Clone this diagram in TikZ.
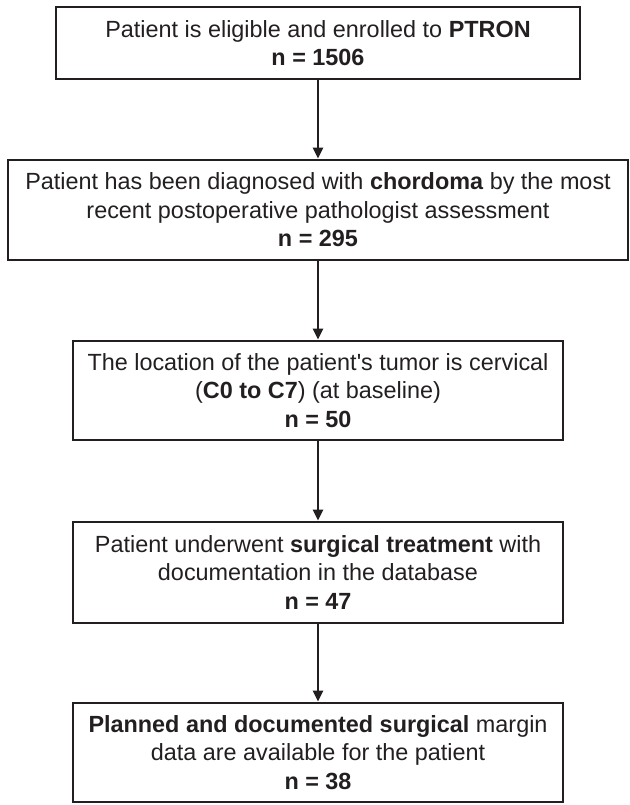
\documentclass[tikz,border=0pt]{standalone}
\usepackage{fontspec}
\setmainfont{Liberation Sans}
\usetikzlibrary{arrows.meta}
\definecolor{ink}{HTML}{231F20}
\begin{document}
\begin{tikzpicture}[x=1pt,y=-1pt,
  flowbox/.style={draw=ink,line width=2.8pt,text=ink,align=center,inner sep=0pt,
    font=\fontsize{23.4}{28.5}\selectfont},
  flowarrow/.style={draw=ink,line width=2.8pt,-{Triangle[width=10pt,length=11pt]}}]
\useasboundingbox (0,0) rectangle (629,805);
\node[flowbox,minimum width=524pt,minimum height=72pt] (b1) at (318,43)
  {Patient is eligible and enrolled to \textbf{PTRON}\\ \textbf{n = 1506}};
\node[flowbox,minimum width=620pt,minimum height=100pt] (b2) at (318,210)
  {Patient has been diagnosed with \textbf{chordoma} by the most\\ recent postoperative pathologist assessment\\ \textbf{n = 295}};
\node[flowbox,minimum width=490pt,minimum height=99pt] (b3) at (318,390.5)
  {The location of the patient\textquotesingle s tumor is cervical\\ (\textbf{C0 to C7}) (at baseline)\\ \textbf{n = 50}};
\node[flowbox,minimum width=490pt,minimum height=101pt] (b4) at (318,572.5)
  {Patient underwent \textbf{surgical treatment} with\\ documentation in the database\\ \textbf{n = 47}};
\node[flowbox,minimum width=490pt,minimum height=99pt] (b5) at (318,752.5)
  {\textbf{Planned and documented surgical} margin\\ data are available for the patient\\ \textbf{n = 38}};
\draw[flowarrow] (b1) -- (b2);
\draw[flowarrow] (b2) -- (b3);
\draw[flowarrow] (b3) -- (b4);
\draw[flowarrow] (b4) -- (b5);
\end{tikzpicture}
\end{document}
